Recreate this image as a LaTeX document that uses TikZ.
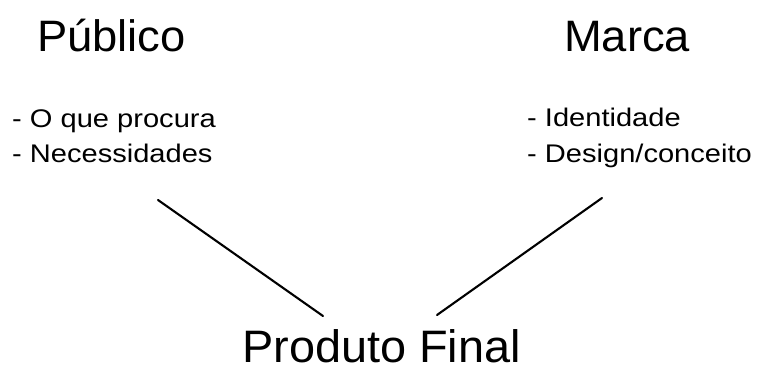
\documentclass[tikz,border=0pt]{standalone}
\usepackage{fontspec}
\setmainfont{Liberation Sans}
\begin{document}
\begin{tikzpicture}[x=1pt,y=-1pt,
  title/.style={font=\fontsize{44}{50}\selectfont, inner sep=0pt, anchor=base west, xscale=1.03, transform shape},
  item/.style={font=\fontsize{25.5}{30}\selectfont, inner sep=0pt, anchor=base west, xscale=1.14, transform shape},
  link/.style={line width=2.1pt, line cap=round}]
\useasboundingbox[fill=white] (0,0) rectangle (761,367);
\node[title] (pub) at (37,51) {Público};
\node[title] (mar) at (564,51) {Marca};
\node[item] (p1) at (12,127) {- O que procura};
\node[item] (p2) at (12,162) {- Necessidades};
\node[item] (m1) at (527,126) {- Identidade};
\node[item] (m2) at (527,162) {- Design/conceito};
\node[title, font=\fontsize{45.5}{50}\selectfont, xscale=1.0, text depth=0pt] (prod) at (242,362) {Produto Final};
\coordinate (a1) at (158,200);
\coordinate (a2) at (323,316);
\coordinate (b1) at (602,198);
\coordinate (b2) at (437,315);
\draw[link] (a1) -- (a2);
\draw[link] (b1) -- (b2);
\end{tikzpicture}
\end{document}
